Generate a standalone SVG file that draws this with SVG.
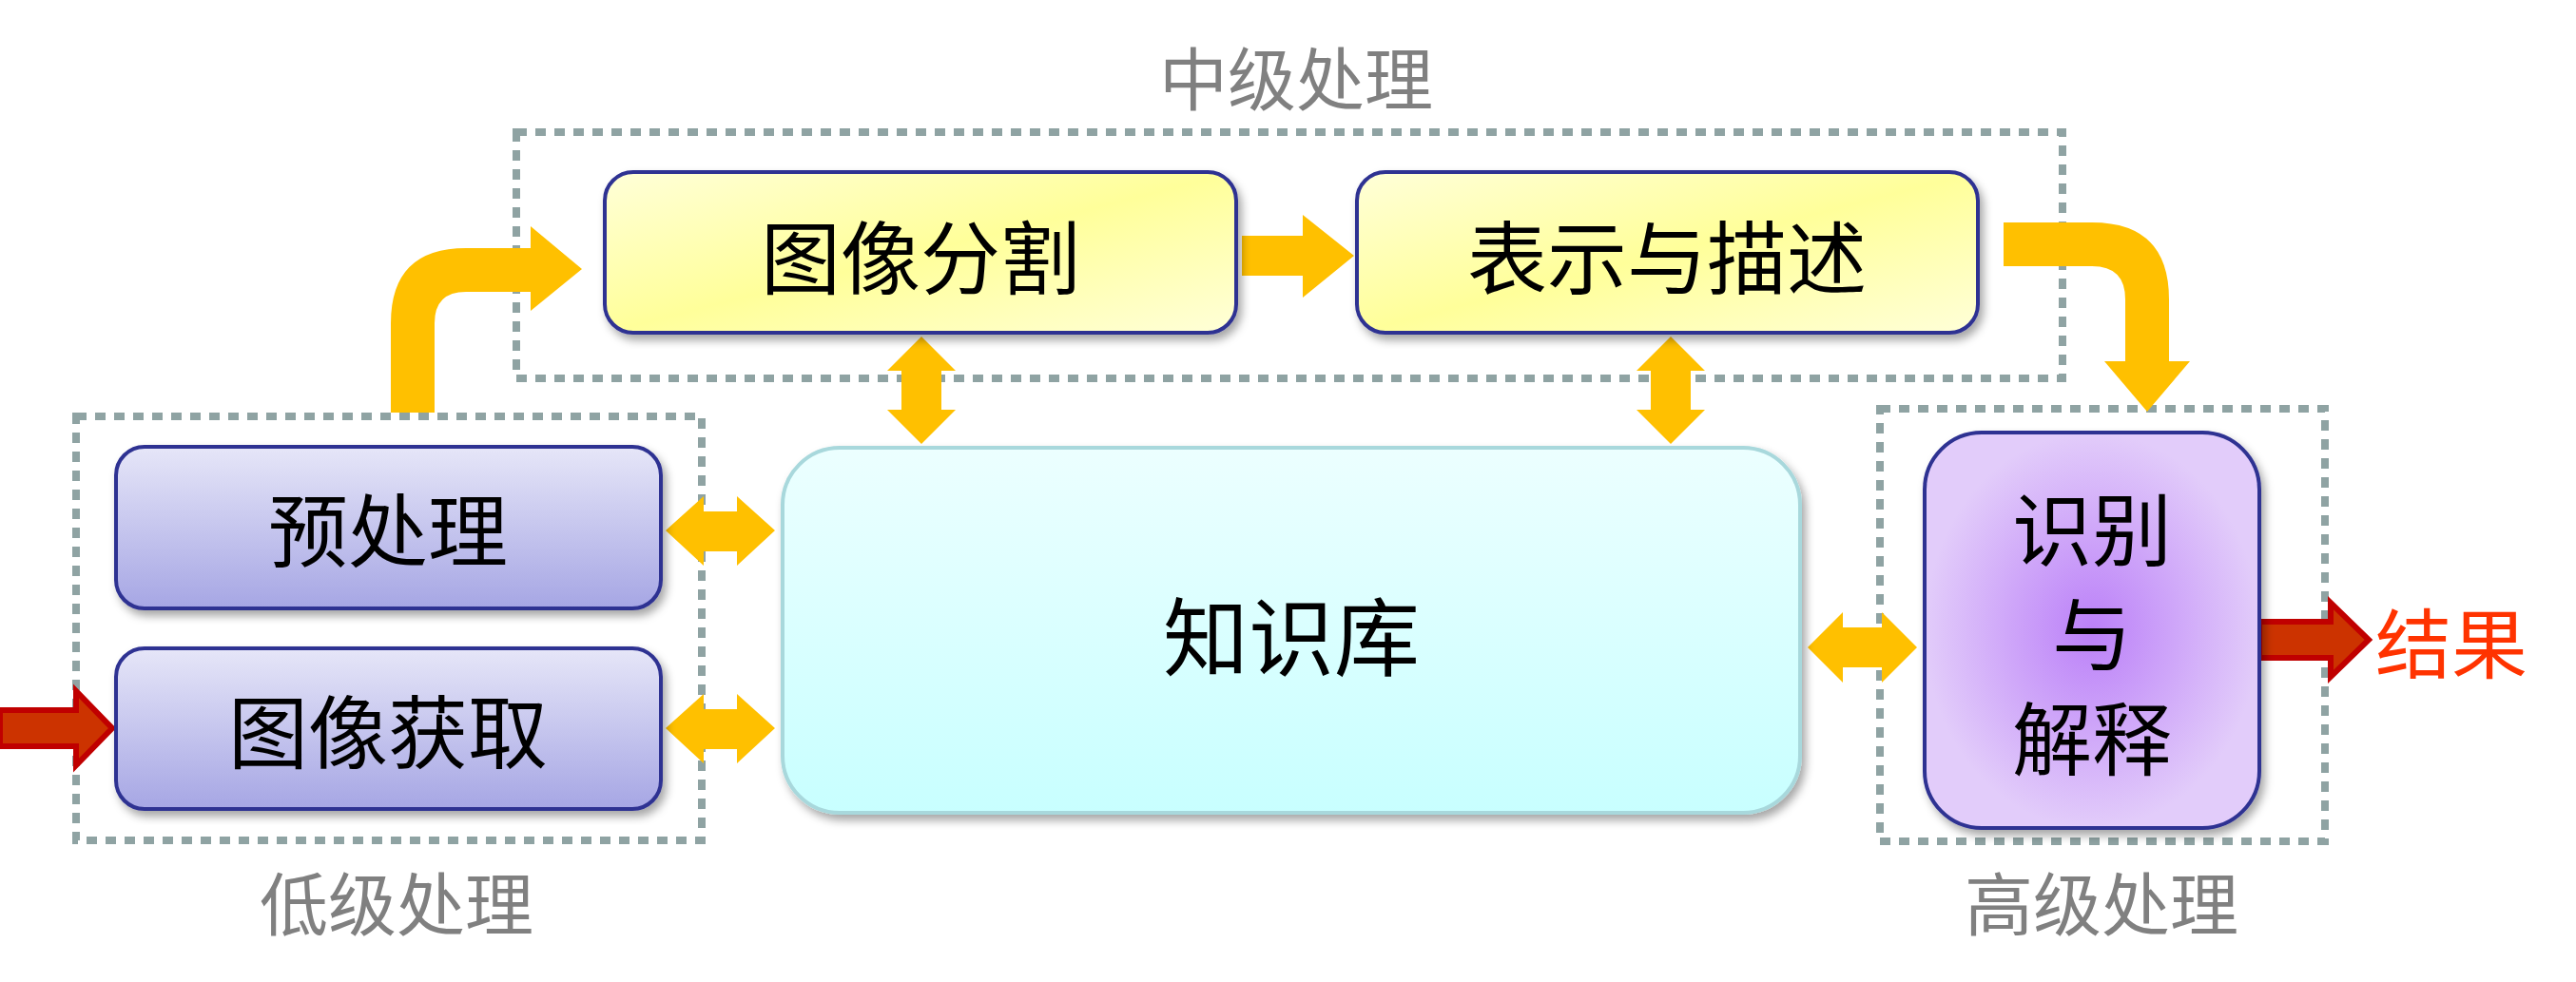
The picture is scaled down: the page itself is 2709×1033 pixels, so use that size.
<svg xmlns="http://www.w3.org/2000/svg" width="2709" height="1033" viewBox="0 0 2709 1033">
<style>
.dash{fill:none;stroke:#8fa3a3;stroke-width:8;stroke-dasharray:11 9}
.t{font-family:"Noto Sans CJK SC","Noto Sans",sans-serif;text-anchor:middle;dominant-baseline:central}
.big{font-size:84px;fill:#000}
.grp{font-size:72px;fill:#808080}
.ya{fill:#ffc000}
.box{stroke:#2e3192;stroke-width:4}
</style>
<defs>
<linearGradient id="gy" x1="0" y1="0" x2="1" y2="1"><stop offset="0" stop-color="#ffffd8"/><stop offset="0.5" stop-color="#ffff9a"/><stop offset="1" stop-color="#ffffd8"/></linearGradient>
<linearGradient id="gb" x1="0" y1="0" x2="0" y2="1"><stop offset="0" stop-color="#e6e6f8"/><stop offset="1" stop-color="#a6a6e4"/></linearGradient>
<linearGradient id="gc" x1="0" y1="0" x2="0" y2="1"><stop offset="0" stop-color="#ecffff"/><stop offset="1" stop-color="#c8ffff"/></linearGradient>
<radialGradient id="gp"><stop offset="0" stop-color="#bb80f8"/><stop offset="1" stop-color="#e2ccfa"/></radialGradient>
<filter id="sh"><feDropShadow dx="4" dy="6" stdDeviation="5" flood-opacity="0.35"/></filter>
</defs>
<g id="groups">
<rect class="dash" x="543" y="139" width="1626" height="259"/>
<rect class="dash" x="80" y="438" width="658" height="446"/>
<rect class="dash" x="1977" y="430" width="468" height="455"/>
<text class="t grp" x="1363" y="78">中级处理</text>
<text class="t grp" x="417" y="946">低级处理</text>
<text class="t grp" x="2210" y="946">高级处理</text>
</g>
<g id="connectors">
<path class="ya" d="M411,434 V340 Q411,261 490,261 H558 V238 L612,283 L558,327 V307 H490 Q457,307 457,340 V434 Z"/>
<path class="ya" d="M1306,248 H1370 V226 L1424,269 L1370,313 V290 H1306 Z"/>
<path class="ya" d="M2107,234 H2200 Q2281,234 2281,315 V380 H2303 L2258,433 L2213,380 H2235 V315 Q2235,280 2200,280 H2107 Z"/>
<path class="ya" d="M700,558 L740,522 V538 H775 V522 L815,558 L775,595 V580 H740 V595 Z"/>
<path class="ya" d="M700,766 L740,730 V746 H775 V730 L815,766 L775,803 V788 H740 V803 Z"/>
<path class="ya" d="M1901,681 L1938,644 V660 H1979 V644 L2016,681 L1979,718 V702 H1938 V718 Z"/>
<path class="ya" d="M969,354 L1005,390 H990 V431 H1005 L969,467 L933,431 H948 V390 H933 Z"/>
<path class="ya" d="M1757,354 L1793,390 H1778 V431 H1793 L1757,467 L1721,431 H1736 V390 H1721 Z"/>
<path d="M0,747 H80 V727 L118,766 L80,805 V785 H0 Z" fill="#cc3300" stroke="#c00000" stroke-width="6"/>
<path d="M2376,654 H2451 V634 L2491,673 L2451,712 V692 H2376 Z" fill="#cc3300" stroke="#c00000" stroke-width="6"/>
</g>
<g id="n1"><rect class="box" x="636" y="181" width="664" height="169" rx="30" fill="url(#gy)" filter="url(#sh)"/><text class="t big" x="968" y="266">图像分割</text></g>
<g id="n2"><rect class="box" x="1427" y="181" width="653" height="169" rx="30" fill="url(#gy)" filter="url(#sh)"/><text class="t big" x="1753" y="266">表示与描述</text></g>
<g id="n3"><rect class="box" x="122" y="470" width="573" height="170" rx="30" fill="url(#gb)" filter="url(#sh)"/><text class="t big" x="408" y="553">预处理</text></g>
<g id="n4"><rect class="box" x="122" y="682" width="573" height="169" rx="30" fill="url(#gb)" filter="url(#sh)"/><text class="t big" x="408" y="765">图像获取</text></g>
<g id="n5"><rect x="823" y="471" width="1070" height="384" rx="60" fill="url(#gc)" stroke="#a8d8dc" stroke-width="4" filter="url(#sh)"/><text class="t" style="font-size:90px" x="1358" y="665">知识库</text></g>
<g id="n6"><rect class="box" x="2024" y="455" width="352" height="416" rx="60" fill="url(#gp)" filter="url(#sh)"/>
<text class="t big" x="2200" y="552">识别</text><text class="t big" x="2200" y="662">与</text><text class="t big" x="2200" y="772">解释</text></g>
<g id="out"><text class="t" style="font-size:80px;fill:#ff3300" x="2578" y="672">结果</text></g>
</svg>
